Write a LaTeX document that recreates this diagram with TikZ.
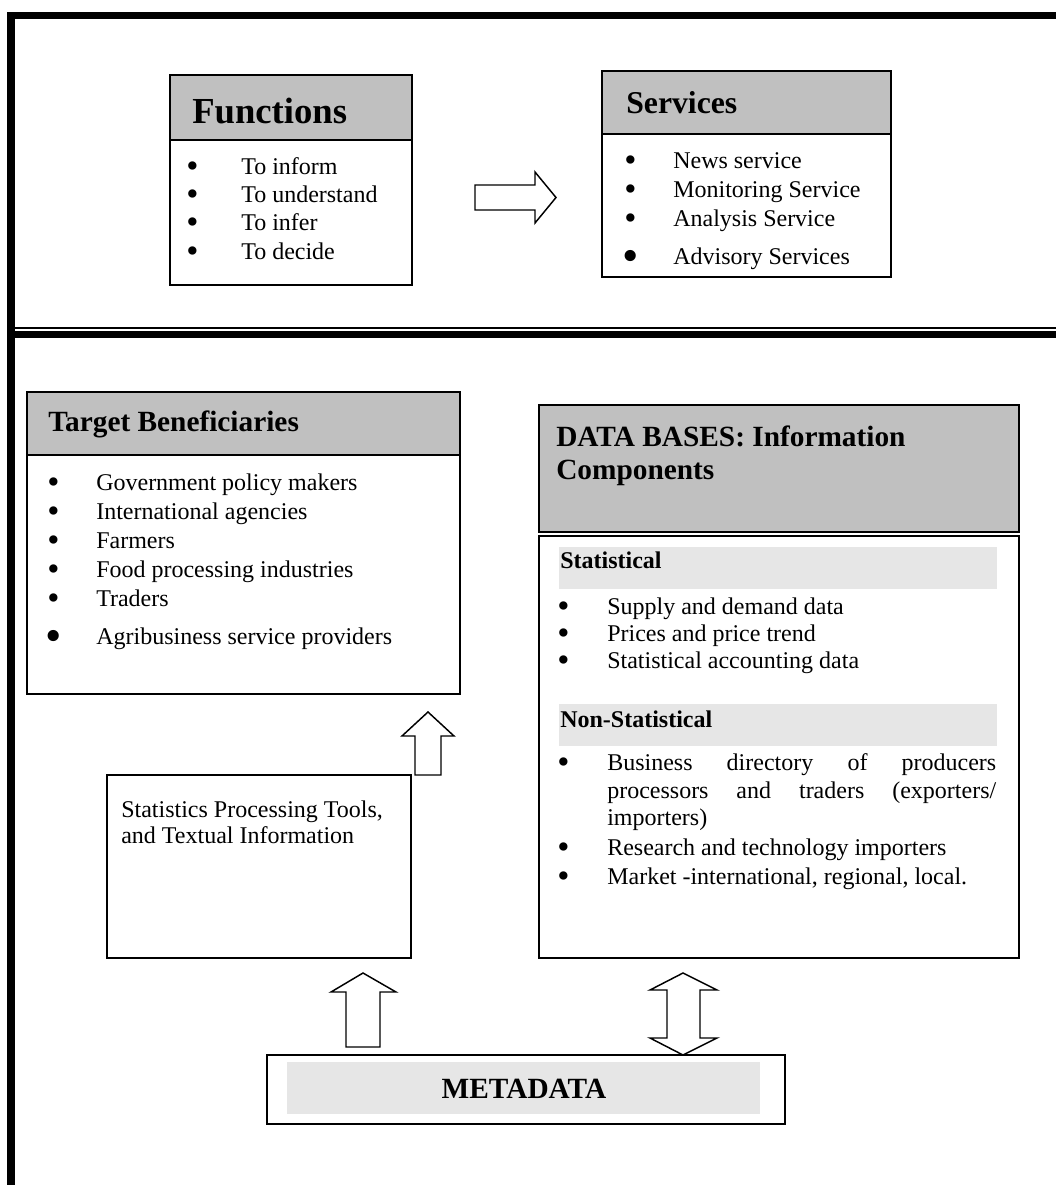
\documentclass[tikz,border=0pt]{standalone}
\usepackage{fontspec}
\usepackage{graphicx}
\setmainfont{Liberation Serif}
\usetikzlibrary{fit}
\definecolor{hdr}{HTML}{C0C0C0}
\definecolor{bandc}{HTML}{E6E6E6}
\newcommand\itm[2]{\makebox[#1][l]{\smash{\raisebox{-2.7pt}{\scalebox{1.45}{\textbullet}}}}#2}
\newcommand\bigitm[2]{\makebox[#1][l]{\hspace*{-1.6pt}\smash{\raisebox{-5.5pt}{\scalebox{1.95}{\textbullet}}}}#2}
\tikzset{
  box/.style={draw=black, line width=1.4pt, inner sep=0pt},
  hbox/.style={box, fill=hdr},
  bandbox/.style={fill=bandc, inner sep=0pt},
  txt/.style={anchor=base west, inner sep=0pt, font=\fontsize{18}{21}\selectfont},
  htxt/.style={anchor=base west, inner sep=0pt, font=\bfseries\fontsize{22}{24}\selectfont},
  blockarrow/.style={draw=black, line width=1.1pt, fill=white, line join=miter},
  frame/.style={fill=black},
}
\begin{document}
\begin{tikzpicture}[x=0.75pt,y=-0.75pt]
\useasboundingbox (0,0) rectangle (1056,1185);
% frame
\fill[frame] (7,12) rectangle (1056,19);
\fill[frame] (7,12) rectangle (15,1185);
\fill[frame] (15,326.5) rectangle (1056,329);
\fill[frame] (15,331) rectangle (1056,338);

% Functions
\node[hbox, fit={(170,75)(412,140)}] (funh) {};
\node[box, fit={(170,140)(412,285)}] (funb) {};
\node[anchor=base west, inner sep=0pt, font=\bfseries\fontsize{27.5}{30}\selectfont] (funt) at (192,123) {Functions};
\node[txt] (f1) at (186,174) {\itm{41.25pt}{To inform}};
\node[txt] (f2) at (186,202) {\itm{41.25pt}{To understand}};
\node[txt] (f3) at (186,230) {\itm{41.25pt}{To infer}};
\node[txt] (f4) at (186,259) {\itm{41.25pt}{To decide}};

% Services
\node[hbox, fit={(602,71)(891,134)}] (serh) {};
\node[box, fit={(602,134)(891,277)}] (serb) {};
\node[anchor=base west, inner sep=0pt, font=\bfseries\fontsize{23.8}{26}\selectfont] (sert) at (626,113) {Services};
\node[txt] (s1) at (624,168) {\itm{36.75pt}{News service}};
\node[txt] (s2) at (624,197) {\itm{36.75pt}{Monitoring Service}};
\node[txt] (s3) at (624,226) {\itm{36.75pt}{Analysis Service}};
\node[txt] (s4) at (624,264) {\bigitm{36.75pt}{Advisory Services}};

% arrow Functions -> Services
\coordinate (ra) at (475,185);
\draw[blockarrow] (ra) -- (535,185) -- (535,172) -- (556,197.5) -- (535,223) -- (535,210) -- (475,210) -- cycle;

% Target Beneficiaries
\node[hbox, fit={(27,392)(460,455)}] (tgth) {};
\node[box, fit={(27,455)(460,694)}] (tgtb) {};
\node[htxt] (tgtt) at (48,431) {Target Beneficiaries};
\node[txt] (t1) at (47,490) {\itm{36.75pt}{Government policy makers}};
\node[txt] (t2) at (47,519) {\itm{36.75pt}{International agencies}};
\node[txt] (t3) at (47,548) {\itm{36.75pt}{Farmers}};
\node[txt] (t4) at (47,577) {\itm{36.75pt}{Food processing industries}};
\node[txt] (t5) at (47,606) {\itm{36.75pt}{Traders}};
\node[txt] (t6) at (47,644) {\bigitm{36.75pt}{Agribusiness service providers}};

% Statistics processing box
\node[box, fit={(107,775)(411,958)}] (stp) {};
\node[txt] (stp1) at (121,817) {Statistics Processing Tools,};
\node[txt] (stp2) at (121,843) {and Textual Information};

% arrow Stats -> Target
\coordinate (ua1) at (415,775);
\draw[blockarrow] (ua1) -- (415,736) -- (402,736) -- (428,712) -- (454,736) -- (441,736) -- (441,775) -- cycle;

% DATA BASES
\node[hbox, fit={(539,405)(1019,532)}] (dbh) {};
\node[box, fit={(539,536)(1019,958)}] (dbb) {};
\node[htxt] (dbt1) at (556,446) {DATA BASES: Information};
\node[htxt] (dbt2) at (556,479) {Components};
\node[bandbox, fit={(559,547)(997,589)}] (statband) {};
\node[anchor=base west, inner sep=0pt, font=\bfseries\fontsize{18}{21}\selectfont] (statt) at (560,568) {Statistical};
\node[txt] (d1) at (557,614) {\itm{37.5pt}{Supply and demand data}};
\node[txt] (d2) at (557,641) {\itm{37.5pt}{Prices and price trend}};
\node[txt] (d3) at (557,668) {\itm{37.5pt}{Statistical accounting data}};
\node[bandbox, fit={(559,704)(997,746)}] (nonband) {};
\node[anchor=base west, inner sep=0pt, font=\bfseries\fontsize{18}{21}\selectfont] (nont) at (560,727) {Non-Statistical};
\node[txt] (n1a) at (557,770) {\itm{37.5pt}{\makebox[291.75pt][s]{Business directory of producers}}};
\node[txt] (n1b) at (607,798) {\makebox[291.75pt][s]{processors and traders (exporters/}};
\node[txt] (n1c) at (607,825) {importers)};
\node[txt] (n2) at (557,855) {\itm{37.5pt}{Research and technology importers}};
\node[txt] (n3) at (557,884) {\itm{37.5pt}{Market -international, regional, local.}};

% METADATA
\node[box, fit={(267,1055)(785,1124)}] (meta) {};
\node[bandbox, fit={(287,1062)(760,1114)}] (metaband) {};
\node[anchor=base, inner sep=0pt, font=\bfseries\fontsize{22}{24}\selectfont] (metat) at (524,1098) {METADATA};

% arrow METADATA -> Stats
\coordinate (ua2) at (346,1047);
\draw[blockarrow] (ua2) -- (346,992) -- (331,992) -- (363,973) -- (396,992) -- (380,992) -- (380,1047) -- cycle;

% double arrow METADATA <-> DATA BASES
\coordinate (da) at (683,973);
\draw[blockarrow] (da) -- (717,990) -- (700,990) -- (700,1038) -- (717,1038) -- (683,1055) -- (650,1038) -- (667,1038) -- (667,990) -- (650,990) -- cycle;
\end{tikzpicture}
\end{document}
